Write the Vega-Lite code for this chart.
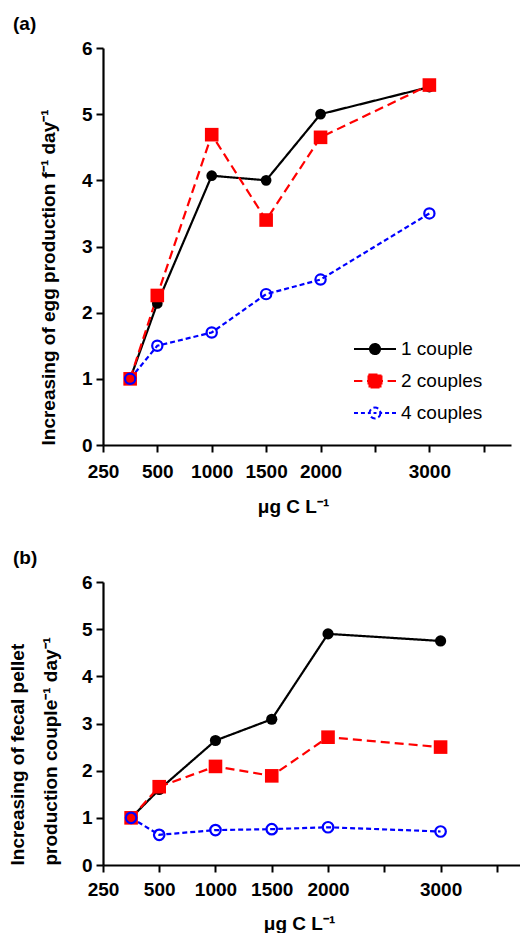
{
  "$schema": "https://vega.github.io/schema/vega-lite/v6.json",
  "padding": {"left": 8, "top": 15, "right": 0, "bottom": 0},
  "background": "white",
  "datasets": {
    "pts": [
      {"panel": "a", "group": "1 couple", "conc": 375, "value": 1.0},
      {"panel": "a", "group": "1 couple", "conc": 500, "value": 2.14},
      {"panel": "a", "group": "1 couple", "conc": 1000, "value": 4.07},
      {"panel": "a", "group": "1 couple", "conc": 1500, "value": 4.0},
      {"panel": "a", "group": "1 couple", "conc": 2000, "value": 5.0},
      {"panel": "a", "group": "1 couple", "conc": 3000, "value": 5.41},
      {"panel": "a", "group": "2 couples", "conc": 375, "value": 1.0},
      {"panel": "a", "group": "2 couples", "conc": 500, "value": 2.26},
      {"panel": "a", "group": "2 couples", "conc": 1000, "value": 4.69},
      {"panel": "a", "group": "2 couples", "conc": 1500, "value": 3.4},
      {"panel": "a", "group": "2 couples", "conc": 2000, "value": 4.65},
      {"panel": "a", "group": "2 couples", "conc": 3000, "value": 5.44},
      {"panel": "a", "group": "4 couples", "conc": 375, "value": 1.0},
      {"panel": "a", "group": "4 couples", "conc": 500, "value": 1.5},
      {"panel": "a", "group": "4 couples", "conc": 1000, "value": 1.7},
      {"panel": "a", "group": "4 couples", "conc": 1500, "value": 2.28},
      {"panel": "a", "group": "4 couples", "conc": 2000, "value": 2.5},
      {"panel": "a", "group": "4 couples", "conc": 3000, "value": 3.5},
      {"panel": "b", "group": "1 couple", "conc": 375, "value": 1.0},
      {"panel": "b", "group": "1 couple", "conc": 500, "value": 1.6},
      {"panel": "b", "group": "1 couple", "conc": 1000, "value": 2.64},
      {"panel": "b", "group": "1 couple", "conc": 1500, "value": 3.09},
      {"panel": "b", "group": "1 couple", "conc": 2000, "value": 4.9},
      {"panel": "b", "group": "1 couple", "conc": 3000, "value": 4.75},
      {"panel": "b", "group": "2 couples", "conc": 375, "value": 1.0},
      {"panel": "b", "group": "2 couples", "conc": 500, "value": 1.66},
      {"panel": "b", "group": "2 couples", "conc": 1000, "value": 2.09},
      {"panel": "b", "group": "2 couples", "conc": 1500, "value": 1.89},
      {"panel": "b", "group": "2 couples", "conc": 2000, "value": 2.71},
      {"panel": "b", "group": "2 couples", "conc": 3000, "value": 2.5},
      {"panel": "b", "group": "4 couples", "conc": 375, "value": 1.0},
      {"panel": "b", "group": "4 couples", "conc": 500, "value": 0.64},
      {"panel": "b", "group": "4 couples", "conc": 1000, "value": 0.74},
      {"panel": "b", "group": "4 couples", "conc": 1500, "value": 0.76},
      {"panel": "b", "group": "4 couples", "conc": 2000, "value": 0.8},
      {"panel": "b", "group": "4 couples", "conc": 3000, "value": 0.71}
    ]
  },
  "data": {"name": "pts"},
  "spacing": 33,
  "vconcat": [
    {
      "title": {"text": "(a)", "anchor": "start", "frame": "group", "dx": -90, "offset": 5},
      "width": 408,
      "height": 397,
      "transform": [{"filter": "datum.panel == 'a'"}],
      "encoding": {
        "x": {
          "field": "conc", "type": "quantitative",
          "scale": {"domain": [250, 500, 3750], "range": [0, 54.3, 408], "nice": false, "zero": false},
          "axis": {
            "title": "μg C L⁻¹", "titleX": 190, "titlePadding": 16, "labelPadding": 10,
            "values": [250, 500, 1000, 1500, 2000, 2500, 3000, 3500],
            "format": "d",
            "labelExpr": "(datum.value == 2500 || datum.value == 3500) ? '' : datum.label"
          }
        },
        "y": {
          "field": "value", "type": "quantitative",
          "scale": {"domain": [0, 6], "nice": false},
          "axis": {"title": "Increasing of egg production f⁻¹ day⁻¹", "values": [0, 1, 2, 3, 4, 5, 6], "titleAnchor": "start", "titlePadding": 23}
        }
      },
      "layer": [
        {
          "mark": {"type": "line", "strokeWidth": 2.2},
          "encoding": {
            "color": {
              "field": "group", "type": "nominal",
              "scale": {"domain": ["1 couple", "2 couples", "4 couples"], "range": ["#000000", "#ff0000", "#0000ff"]},
              "legend": {
                "title": null, "orient": "none", "legendX": 250, "legendY": 285,
                "padding": 0, "symbolSize": 1764, "symbolStrokeWidth": 2,
                "clipHeight": 32, "rowPadding": 0, "labelOffset": 4,
                "labelFont": "Liberation Sans", "labelFontSize": 19, "labelColor": "#000000", "labelFontWeight": "normal",
                "encode": {
                  "symbols": {
                    "update": {
                      "shape": {"signal": "datum.value == '1 couple' ? 'M-1,0H1M0.24,0A0.24,0.24,0,1,1,-0.24,0A0.24,0.24,0,1,1,0.24,0Z' : datum.value == '2 couples' ? 'M-1,0H-0.6M-0.38,0H0.38M0.6,0H1M-0.31,-0.31H0.31V0.31H-0.31Z' : 'M-1,0H-0.81M-0.67,0H-0.48M-0.34,0H-0.2M0.2,0H0.34M0.48,0H0.67M0.81,0H1M0.26,0A0.26,0.26,0,1,1,-0.26,0A0.26,0.26,0,1,1,0.26,0ZM-0.07,0H0.07'"},
                      "fill": {"signal": "datum.value == '1 couple' ? '#000000' : datum.value == '2 couples' ? '#ff0000' : '#ffffff'"},
                      "strokeWidth": {"value": 2},
                      "opacity": {"value": 1}
                    }
                  }
                }
              }
            },
            "strokeDash": {
              "field": "group", "type": "nominal",
              "scale": {"domain": ["1 couple", "2 couples", "4 couples"], "range": [[1, 0], [9, 5], [5, 3]]},
              "legend": null
            }
          }
        },
        {
          "transform": [{"filter": "datum.group == '1 couple'"}],
          "mark": {"type": "point", "shape": "circle", "filled": true, "color": "#000000", "size": 115, "opacity": 1}
        },
        {
          "transform": [{"filter": "datum.group == '2 couples'"}],
          "mark": {"type": "point", "shape": "square", "filled": true, "color": "#ff0000", "size": 185, "opacity": 1}
        },
        {
          "transform": [{"filter": "datum.group == '4 couples'"}],
          "mark": {"type": "point", "shape": "circle", "filled": false, "color": "#0000ff", "size": 105, "strokeWidth": 2.2, "opacity": 1}
        }
      ]
    },
    {
      "title": {"text": "(b)", "anchor": "start", "frame": "group", "dx": -90, "offset": 5},
      "width": 422,
      "height": 283,
      "transform": [{"filter": "datum.panel == 'b'"}],
      "encoding": {
        "x": {
          "field": "conc", "type": "quantitative",
          "scale": {"domain": [250, 500, 3750], "range": [0, 56.2, 422], "nice": false, "zero": false},
          "axis": {
            "title": "μg C L⁻¹", "titleX": 196, "titlePadding": 15, "labelPadding": 8,
            "values": [250, 500, 1000, 1500, 2000, 2500, 3000, 3500],
            "format": "d",
            "labelExpr": "(datum.value == 2500 || datum.value == 3500) ? '' : datum.label"
          }
        },
        "y": {
          "field": "value", "type": "quantitative",
          "scale": {"domain": [0, 6], "nice": false},
          "axis": {"title": ["Increasing of fecal pellet", "production couple⁻¹ day⁻¹"], "values": [0, 1, 2, 3, 4, 5, 6], "titleAnchor": "start", "titlePadding": 21, "titleLineHeight": 33}
        }
      },
      "layer": [
        {
          "mark": {"type": "line", "strokeWidth": 2.2},
          "encoding": {
            "color": {
              "field": "group", "type": "nominal",
              "scale": {"domain": ["1 couple", "2 couples", "4 couples"], "range": ["#000000", "#ff0000", "#0000ff"]},
              "legend": null
            },
            "strokeDash": {
              "field": "group", "type": "nominal",
              "scale": {"domain": ["1 couple", "2 couples", "4 couples"], "range": [[1, 0], [9, 5], [5, 3]]},
              "legend": null
            }
          }
        },
        {
          "transform": [{"filter": "datum.group == '1 couple'"}],
          "mark": {"type": "point", "shape": "circle", "filled": true, "color": "#000000", "size": 125, "opacity": 1}
        },
        {
          "transform": [{"filter": "datum.group == '2 couples'"}],
          "mark": {"type": "point", "shape": "square", "filled": true, "color": "#ff0000", "size": 185, "opacity": 1}
        },
        {
          "transform": [{"filter": "datum.group == '4 couples'"}],
          "mark": {"type": "point", "shape": "circle", "filled": false, "color": "#0000ff", "size": 110, "strokeWidth": 2.2, "opacity": 1}
        }
      ]
    }
  ],
  "resolve": {"scale": {"color": "independent", "strokeDash": "independent"}},
  "config": {
    "view": {"stroke": null},
    "font": "Liberation Sans",
    "title": {"font": "Liberation Sans", "fontSize": 19, "fontWeight": "bold", "color": "#000000"},
    "axis": {
      "grid": false,
      "domainColor": "#000000", "domainWidth": 2.2,
      "tickColor": "#000000", "tickWidth": 2, "tickSize": 7,
      "labelFont": "Liberation Sans", "labelFontSize": 19, "labelFontWeight": "bold", "labelColor": "#000000", "labelPadding": 8,
      "labelOverlap": false, "labelFlush": false,
      "titleFont": "Liberation Sans", "titleFontSize": 19, "titleFontWeight": "bold", "titleColor": "#000000"
    },
    "axisY": {"labelPadding": 4}
  }
}
